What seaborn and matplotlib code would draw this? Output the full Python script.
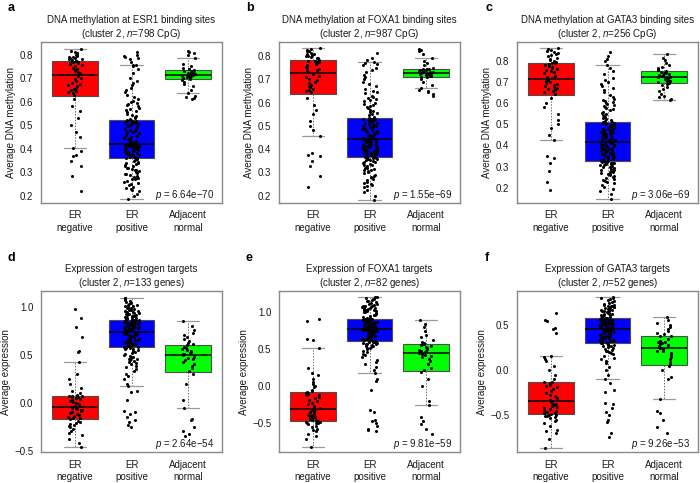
import pandas as pd
import matplotlib
matplotlib.use('Agg')
import matplotlib.pyplot as plt
import matplotlib.ticker as mticker
import seaborn as sns

# Groups and box colours
groups = ['ER\nnegative', 'ER\npositive', 'Adjacent\nnormal']
box_colors = ['#ff0000', '#0000ff', '#00ff00']

# Panel a: DNA methylation at ESR1 binding sites
esr1_meth_neg = [0.22, 0.285, 0.325, 0.35, 0.37, 0.375, 0.39, 0.405, 0.45, 0.47,
                 0.50, 0.53, 0.56, 0.58, 0.61, 0.63, 0.635, 0.64, 0.645, 0.65,
                 0.655, 0.66, 0.665, 0.67, 0.675, 0.68, 0.69, 0.695, 0.70, 0.71,
                 0.72, 0.725, 0.73, 0.735, 0.74, 0.745, 0.75, 0.755, 0.76, 0.765,
                 0.765, 0.768, 0.77, 0.77, 0.772, 0.775, 0.778, 0.78, 0.78, 0.785,
                 0.785, 0.79, 0.79, 0.795, 0.80, 0.80, 0.805, 0.81, 0.815, 0.823]
esr1_meth_pos = [0.185, 0.20, 0.21, 0.22, 0.225, 0.23, 0.235, 0.24, 0.245, 0.25,
                 0.255, 0.26, 0.265, 0.27, 0.272, 0.275, 0.278, 0.28, 0.285, 0.29,
                 0.292, 0.295, 0.298, 0.30, 0.305, 0.31, 0.312, 0.315, 0.318, 0.32,
                 0.325, 0.328, 0.33, 0.335, 0.338, 0.34, 0.345, 0.348, 0.352, 0.356,
                 0.36, 0.362, 0.364, 0.366, 0.368, 0.37, 0.372, 0.374, 0.376, 0.378,
                 0.38, 0.382, 0.384, 0.386, 0.388, 0.39, 0.391, 0.393, 0.395, 0.396,
                 0.398, 0.40, 0.401, 0.402, 0.404, 0.405, 0.406, 0.407, 0.408, 0.41,
                 0.411, 0.412, 0.413, 0.414, 0.415, 0.416, 0.417, 0.418, 0.419, 0.42,
                 0.422, 0.425, 0.428, 0.43, 0.433, 0.436, 0.44, 0.442, 0.445, 0.448,
                 0.45, 0.453, 0.456, 0.46, 0.463, 0.466, 0.47, 0.473, 0.476, 0.48,
                 0.483, 0.486, 0.49, 0.493, 0.496, 0.50, 0.502, 0.504, 0.506, 0.508,
                 0.51, 0.511, 0.512, 0.513, 0.514, 0.515, 0.516, 0.518, 0.519, 0.52,
                 0.522, 0.525, 0.53, 0.535, 0.54, 0.545, 0.55, 0.555, 0.56, 0.565,
                 0.57, 0.575, 0.58, 0.585, 0.59, 0.595, 0.60, 0.605, 0.61, 0.62,
                 0.63, 0.64, 0.65, 0.66, 0.67, 0.68, 0.69, 0.70, 0.72, 0.74,
                 0.75, 0.755, 0.758, 0.77, 0.78, 0.785, 0.79, 0.795, 0.80, 0.81]
esr1_meth_norm = [0.61, 0.615, 0.62, 0.625, 0.636, 0.65, 0.665, 0.675, 0.685, 0.692,
                  0.696, 0.70, 0.702, 0.704, 0.706, 0.708, 0.71, 0.711, 0.712, 0.713,
                  0.715, 0.717, 0.719, 0.72, 0.722, 0.724, 0.726, 0.729, 0.732, 0.735,
                  0.737, 0.74, 0.745, 0.75, 0.76, 0.786, 0.80, 0.805, 0.81, 0.815]

# Panel b: DNA methylation at FOXA1 binding sites
foxa1_meth_neg = [0.235, 0.285, 0.325, 0.35, 0.37, 0.375, 0.385, 0.455, 0.48, 0.50,
                  0.52, 0.55, 0.57, 0.59, 0.62, 0.645, 0.65, 0.655, 0.66, 0.665,
                  0.67, 0.675, 0.68, 0.685, 0.69, 0.695, 0.70, 0.71, 0.715, 0.725,
                  0.73, 0.735, 0.74, 0.745, 0.75, 0.755, 0.76, 0.765, 0.77, 0.775,
                  0.775, 0.775, 0.778, 0.78, 0.78, 0.785, 0.79, 0.79, 0.795, 0.80,
                  0.80, 0.805, 0.81, 0.81, 0.815, 0.82, 0.82, 0.825, 0.83, 0.833]
foxa1_meth_pos = [0.181, 0.20, 0.215, 0.225, 0.235, 0.24, 0.245, 0.25, 0.255, 0.26,
                  0.265, 0.27, 0.275, 0.28, 0.285, 0.29, 0.295, 0.30, 0.305, 0.31,
                  0.312, 0.315, 0.318, 0.32, 0.325, 0.33, 0.333, 0.336, 0.34, 0.343,
                  0.346, 0.35, 0.352, 0.354, 0.356, 0.358, 0.36, 0.362, 0.364, 0.365,
                  0.367, 0.369, 0.371, 0.373, 0.375, 0.377, 0.379, 0.381, 0.383, 0.385,
                  0.387, 0.389, 0.391, 0.393, 0.395, 0.397, 0.399, 0.401, 0.403, 0.405,
                  0.407, 0.409, 0.411, 0.413, 0.415, 0.417, 0.419, 0.421, 0.423, 0.425,
                  0.427, 0.429, 0.431, 0.433, 0.435, 0.437, 0.439, 0.44, 0.441, 0.442,
                  0.444, 0.447, 0.45, 0.452, 0.455, 0.458, 0.46, 0.463, 0.466, 0.468,
                  0.47, 0.473, 0.476, 0.479, 0.482, 0.485, 0.488, 0.49, 0.493, 0.496,
                  0.498, 0.50, 0.503, 0.506, 0.508, 0.511, 0.514, 0.516, 0.519, 0.522,
                  0.523, 0.524, 0.525, 0.526, 0.527, 0.528, 0.529, 0.53, 0.53, 0.531,
                  0.535, 0.54, 0.545, 0.55, 0.555, 0.56, 0.565, 0.57, 0.575, 0.58,
                  0.585, 0.59, 0.595, 0.60, 0.605, 0.61, 0.615, 0.62, 0.625, 0.63,
                  0.64, 0.645, 0.65, 0.66, 0.67, 0.68, 0.69, 0.70, 0.71, 0.72,
                  0.73, 0.74, 0.75, 0.76, 0.765, 0.77, 0.775, 0.785, 0.79, 0.815]
foxa1_meth_norm = [0.63, 0.635, 0.645, 0.65, 0.655, 0.661, 0.675, 0.69, 0.70, 0.708,
                   0.712, 0.714, 0.716, 0.718, 0.72, 0.721, 0.723, 0.724, 0.726, 0.727,
                   0.729, 0.73, 0.731, 0.733, 0.735, 0.737, 0.739, 0.741, 0.743, 0.744,
                   0.746, 0.75, 0.76, 0.77, 0.78, 0.792, 0.81, 0.82, 0.825, 0.83]

# Panel c: DNA methylation at GATA3 binding sites
gata3_meth_neg = [0.189, 0.228, 0.281, 0.315, 0.342, 0.35, 0.425, 0.45, 0.48, 0.50,
                  0.52, 0.55, 0.58, 0.60, 0.625, 0.645, 0.65, 0.655, 0.66, 0.665,
                  0.67, 0.675, 0.68, 0.685, 0.69, 0.695, 0.70, 0.705, 0.71, 0.712,
                  0.718, 0.725, 0.73, 0.74, 0.745, 0.75, 0.755, 0.76, 0.765, 0.77,
                  0.775, 0.778, 0.78, 0.783, 0.787, 0.79, 0.795, 0.80, 0.805, 0.81,
                  0.815, 0.82, 0.825, 0.83, 0.835, 0.84, 0.845, 0.85, 0.855, 0.86]
gata3_meth_pos = [0.148, 0.17, 0.185, 0.195, 0.205, 0.215, 0.22, 0.225, 0.23, 0.235,
                  0.24, 0.245, 0.25, 0.255, 0.26, 0.263, 0.266, 0.27, 0.273, 0.276,
                  0.28, 0.283, 0.286, 0.29, 0.293, 0.296, 0.30, 0.303, 0.306, 0.309,
                  0.312, 0.314, 0.316, 0.318, 0.319, 0.32, 0.321, 0.322, 0.324, 0.325,
                  0.328, 0.33, 0.332, 0.335, 0.337, 0.339, 0.341, 0.344, 0.346, 0.348,
                  0.35, 0.353, 0.355, 0.357, 0.359, 0.362, 0.364, 0.366, 0.368, 0.371,
                  0.373, 0.375, 0.377, 0.38, 0.382, 0.384, 0.386, 0.389, 0.391, 0.393,
                  0.395, 0.398, 0.40, 0.402, 0.404, 0.407, 0.409, 0.411, 0.413, 0.415,
                  0.417, 0.42, 0.422, 0.425, 0.427, 0.43, 0.432, 0.434, 0.437, 0.44,
                  0.442, 0.444, 0.447, 0.449, 0.452, 0.454, 0.456, 0.459, 0.461, 0.464,
                  0.466, 0.468, 0.471, 0.473, 0.476, 0.478, 0.48, 0.483, 0.485, 0.488,
                  0.49, 0.492, 0.495, 0.497, 0.50, 0.502, 0.504, 0.507, 0.509, 0.51,
                  0.515, 0.52, 0.525, 0.53, 0.535, 0.54, 0.545, 0.55, 0.555, 0.56,
                  0.565, 0.57, 0.575, 0.58, 0.585, 0.59, 0.595, 0.60, 0.605, 0.61,
                  0.615, 0.62, 0.63, 0.64, 0.65, 0.66, 0.67, 0.68, 0.69, 0.70,
                  0.71, 0.72, 0.735, 0.75, 0.765, 0.78, 0.80, 0.81, 0.82, 0.84]
gata3_meth_norm = [0.615, 0.62, 0.628, 0.635, 0.645, 0.655, 0.665, 0.675, 0.685, 0.692,
                   0.696, 0.699, 0.702, 0.705, 0.708, 0.711, 0.713, 0.715, 0.717, 0.719,
                   0.723, 0.725, 0.727, 0.729, 0.731, 0.734, 0.737, 0.74, 0.744, 0.749,
                   0.752, 0.756, 0.76, 0.765, 0.77, 0.78, 0.79, 0.805, 0.815, 0.83]

# Panel d: expression of estrogen targets
estr_expr_neg = [-0.535, -0.462, -0.42, -0.38, -0.34, -0.31, -0.29, -0.27, -0.25, -0.24,
                 -0.23, -0.22, -0.21, -0.20, -0.19, -0.165, -0.16, -0.155, -0.15, -0.14,
                 -0.13, -0.12, -0.11, -0.10, -0.09, -0.08, -0.07, -0.06, -0.055, -0.05,
                 -0.04, -0.03, -0.02, -0.01, 0.0, 0.01, 0.02, 0.03, 0.04, 0.05,
                 0.055, 0.06, 0.063, 0.066, 0.068, 0.07, 0.08, 0.10, 0.12, 0.15,
                 0.20, 0.25, 0.30, 0.421, 0.53, 0.535, 0.68, 0.79, 0.88, 0.97]
estr_expr_pos = [-0.25, -0.23, -0.20, -0.18, -0.15, -0.12, -0.10, -0.09, 0.03, 0.11,
                 0.12, 0.172, 0.20, 0.25, 0.28, 0.30, 0.33, 0.35, 0.37, 0.38,
                 0.40, 0.41, 0.42, 0.43, 0.44, 0.45, 0.46, 0.47, 0.48, 0.49,
                 0.50, 0.51, 0.52, 0.53, 0.54, 0.55, 0.555, 0.56, 0.565, 0.572,
                 0.58, 0.585, 0.59, 0.594, 0.598, 0.602, 0.606, 0.61, 0.614, 0.618,
                 0.622, 0.626, 0.63, 0.634, 0.638, 0.642, 0.646, 0.65, 0.654, 0.658,
                 0.662, 0.666, 0.67, 0.674, 0.678, 0.682, 0.686, 0.69, 0.694, 0.698,
                 0.702, 0.706, 0.71, 0.714, 0.718, 0.722, 0.726, 0.73, 0.735, 0.74,
                 0.742, 0.745, 0.748, 0.751, 0.754, 0.757, 0.76, 0.763, 0.766, 0.769,
                 0.772, 0.775, 0.778, 0.781, 0.784, 0.787, 0.79, 0.793, 0.796, 0.799,
                 0.802, 0.805, 0.808, 0.811, 0.814, 0.817, 0.82, 0.823, 0.826, 0.829,
                 0.832, 0.835, 0.838, 0.841, 0.844, 0.847, 0.85, 0.853, 0.856, 0.858,
                 0.862, 0.866, 0.87, 0.875, 0.88, 0.885, 0.89, 0.895, 0.90, 0.905,
                 0.91, 0.915, 0.92, 0.925, 0.93, 0.935, 0.94, 0.945, 0.95, 0.955,
                 0.96, 0.965, 0.97, 0.975, 0.98, 0.985, 0.99, 1.0, 1.005, 1.01,
                 1.015, 1.02, 1.03, 1.04, 1.05, 1.06, 1.07, 1.08, 1.085, 1.093]
estr_expr_norm = [-0.35, -0.32, -0.29, -0.25, -0.18, -0.17, -0.059, 0.03, 0.20, 0.30,
                  0.33, 0.36, 0.38, 0.40, 0.42, 0.44, 0.46, 0.47, 0.48, 0.495,
                  0.505, 0.51, 0.52, 0.53, 0.54, 0.55, 0.56, 0.57, 0.58, 0.60,
                  0.61, 0.62, 0.64, 0.66, 0.68, 0.70, 0.73, 0.76, 0.80, 0.852]

# Panel e: expression of FOXA1 targets
foxa1_expr_neg = [-0.835, -0.72, -0.68, -0.65, -0.62, -0.60, -0.58, -0.56, -0.54, -0.52,
                  -0.51, -0.505, -0.50, -0.495, -0.49, -0.475, -0.47, -0.46, -0.45, -0.44,
                  -0.43, -0.42, -0.41, -0.40, -0.39, -0.38, -0.36, -0.35, -0.33, -0.31,
                  -0.305, -0.29, -0.27, -0.25, -0.23, -0.21, -0.19, -0.17, -0.15, -0.13,
                  -0.12, -0.11, -0.10, -0.09, -0.08, -0.065, -0.05, -0.02, 0.0, 0.03,
                  0.06, 0.10, 0.15, 0.17, 0.25, 0.515, 0.62, 0.64, 0.89, 0.91]
foxa1_expr_pos = [-0.62, -0.60, -0.58, -0.55, -0.50, -0.48, -0.46, -0.35, -0.33, -0.05,
                  0.07, 0.10, 0.181, 0.22, 0.26, 0.30, 0.33, 0.36, 0.39, 0.42,
                  0.44, 0.46, 0.48, 0.50, 0.51, 0.52, 0.53, 0.54, 0.55, 0.56,
                  0.565, 0.57, 0.575, 0.58, 0.585, 0.59, 0.593, 0.596, 0.599, 0.602,
                  0.608, 0.612, 0.616, 0.62, 0.625, 0.63, 0.635, 0.64, 0.645, 0.65,
                  0.655, 0.66, 0.665, 0.67, 0.675, 0.68, 0.685, 0.69, 0.695, 0.70,
                  0.705, 0.71, 0.715, 0.72, 0.725, 0.73, 0.735, 0.74, 0.745, 0.75,
                  0.753, 0.756, 0.759, 0.762, 0.765, 0.767, 0.769, 0.771, 0.772, 0.773,
                  0.776, 0.78, 0.784, 0.788, 0.792, 0.796, 0.80, 0.804, 0.808, 0.812,
                  0.816, 0.82, 0.824, 0.828, 0.832, 0.836, 0.84, 0.844, 0.848, 0.852,
                  0.856, 0.86, 0.864, 0.868, 0.872, 0.876, 0.88, 0.884, 0.888, 0.892,
                  0.895, 0.898, 0.90, 0.902, 0.904, 0.905, 0.906, 0.907, 0.908, 0.909,
                  0.912, 0.92, 0.93, 0.94, 0.95, 0.96, 0.97, 0.98, 0.99, 1.0,
                  1.01, 1.02, 1.025, 1.03, 1.035, 1.04, 1.045, 1.05, 1.055, 1.06,
                  1.065, 1.07, 1.075, 1.08, 1.085, 1.09, 1.095, 1.10, 1.11, 1.12,
                  1.13, 1.14, 1.15, 1.16, 1.17, 1.18, 1.19, 1.20, 1.205, 1.208]
foxa1_expr_norm = [-0.65, -0.58, -0.52, -0.48, -0.42, -0.257, -0.20, 0.0, 0.10, 0.19,
                   0.215, 0.25, 0.30, 0.34, 0.37, 0.40, 0.41, 0.42, 0.435, 0.445,
                   0.46, 0.47, 0.48, 0.49, 0.50, 0.52, 0.53, 0.54, 0.555, 0.57,
                   0.575, 0.58, 0.60, 0.63, 0.66, 0.70, 0.75, 0.80, 0.85, 0.899]

# Panel f: expression of GATA3 targets
gata3_expr_neg = [-0.867, -0.76, -0.70, -0.68, -0.66, -0.62, -0.59, -0.57, -0.55, -0.53,
                  -0.52, -0.51, -0.505, -0.50, -0.495, -0.485, -0.48, -0.47, -0.46, -0.45,
                  -0.44, -0.43, -0.42, -0.41, -0.40, -0.39, -0.38, -0.37, -0.36, -0.35,
                  -0.345, -0.33, -0.31, -0.29, -0.27, -0.25, -0.23, -0.21, -0.19, -0.17,
                  -0.16, -0.155, -0.15, -0.145, -0.135, -0.125, -0.10, -0.05, 0.0, 0.05,
                  0.10, 0.12, 0.15, 0.163, 0.42, 0.46, 0.47, 0.55, 0.56, 0.64]
gata3_expr_pos = [-0.74, -0.70, -0.58, -0.55, -0.50, -0.46, -0.42, -0.38, -0.36, -0.24,
                  -0.22, -0.14, -0.093, -0.05, 0.0, 0.04, 0.08, 0.10, 0.12, 0.14,
                  0.16, 0.18, 0.19, 0.20, 0.21, 0.22, 0.23, 0.24, 0.25, 0.26,
                  0.265, 0.27, 0.275, 0.28, 0.285, 0.29, 0.295, 0.298, 0.301, 0.304,
                  0.309, 0.313, 0.317, 0.321, 0.325, 0.329, 0.333, 0.337, 0.341, 0.345,
                  0.349, 0.353, 0.357, 0.361, 0.365, 0.369, 0.373, 0.377, 0.381, 0.385,
                  0.389, 0.393, 0.397, 0.401, 0.405, 0.409, 0.413, 0.417, 0.421, 0.425,
                  0.429, 0.433, 0.437, 0.441, 0.444, 0.447, 0.45, 0.453, 0.456, 0.458,
                  0.46, 0.463, 0.466, 0.469, 0.472, 0.475, 0.478, 0.481, 0.484, 0.487,
                  0.49, 0.493, 0.496, 0.499, 0.502, 0.505, 0.508, 0.511, 0.514, 0.517,
                  0.52, 0.523, 0.526, 0.529, 0.532, 0.535, 0.538, 0.541, 0.544, 0.547,
                  0.55, 0.553, 0.556, 0.559, 0.562, 0.565, 0.568, 0.571, 0.574, 0.577,
                  0.58, 0.585, 0.59, 0.595, 0.60, 0.605, 0.61, 0.615, 0.62, 0.625,
                  0.63, 0.635, 0.64, 0.645, 0.65, 0.655, 0.66, 0.665, 0.67, 0.675,
                  0.68, 0.685, 0.69, 0.695, 0.70, 0.705, 0.71, 0.715, 0.72, 0.725,
                  0.73, 0.74, 0.75, 0.76, 0.77, 0.78, 0.79, 0.80, 0.805, 0.811]
gata3_expr_norm = [-0.70, -0.63, -0.55, -0.48, -0.45, -0.319, -0.10, -0.08, 0.0, 0.05,
                   0.068, 0.09, 0.12, 0.15, 0.17, 0.19, 0.21, 0.22, 0.235, 0.245,
                   0.258, 0.27, 0.28, 0.29, 0.30, 0.31, 0.32, 0.33, 0.35, 0.378,
                   0.385, 0.40, 0.42, 0.44, 0.46, 0.48, 0.50, 0.53, 0.56, 0.593]

panel_data = [
    (esr1_meth_neg, esr1_meth_pos, esr1_meth_norm),
    (foxa1_meth_neg, foxa1_meth_pos, foxa1_meth_norm),
    (gata3_meth_neg, gata3_meth_pos, gata3_meth_norm),
    (estr_expr_neg, estr_expr_pos, estr_expr_norm),
    (foxa1_expr_neg, foxa1_expr_pos, foxa1_expr_norm),
    (gata3_expr_neg, gata3_expr_pos, gata3_expr_norm),
]

panel_letters = ['a', 'b', 'c', 'd', 'e', 'f']
titles = ['DNA methylation at ESR1 binding sites', 'DNA methylation at FOXA1 binding sites',
          'DNA methylation at GATA3 binding sites', 'Expression of estrogen targets',
          'Expression of FOXA1 targets', 'Expression of GATA3 targets']
n_labels = ['798 CpG', '987 CpG', '256 CpG', '133 genes', '82 genes', '52 genes']
y_labels = ['Average DNA methylation'] * 3 + ['Average expression'] * 3
p_values = ['6.64e\u221270', '1.55e\u221269', '3.06e\u221269',
            '2.64e\u221254', '9.81e\u221259', '9.26e\u221253']
y_limits = [(0.172, 0.855), (0.17, 0.862), (0.13, 0.89),
            (-0.512, 1.16), (-0.9, 1.29), (-0.91, 0.88)]
meth_ticks = [0.2, 0.3, 0.4, 0.5, 0.6, 0.7, 0.8]
y_ticks = [meth_ticks, meth_ticks, meth_ticks,
           [-0.5, 0.0, 0.5, 1.0], [-0.5, 0.0, 0.5, 1.0], [-0.5, 0.0, 0.5]]

sns.set_style('white')
plt.rcParams['font.family'] = ['Liberation Sans', 'DejaVu Sans']
plt.rcParams['mathtext.fontset'] = 'custom'
plt.rcParams['mathtext.rm'] = 'Liberation Sans'
plt.rcParams['mathtext.it'] = 'Liberation Sans:italic'

fig = plt.figure(figsize=(7, 4.83), dpi=100)

col_left = [0.0586, 0.3986, 0.7386]
row_bottom = [0.5807, 0.0641]
ax_w, ax_h = 0.2586, 0.333
letter_x = [8 / 700, 246 / 700, 485 / 700]
letter_y = [1 - 8 / 483, 1 - 258 / 483]

text_color = '#1a1a1a'
minus_fmt = mticker.FuncFormatter(lambda v, _: f'{v:.1f}'.replace('-', '\u2212'))

for i, (neg, pos, norm) in enumerate(panel_data):
    row, col = divmod(i, 3)
    ax = fig.add_axes([col_left[col], row_bottom[row], ax_w, ax_h])

    df = pd.DataFrame({
        'group': [groups[0]] * len(neg) + [groups[1]] * len(pos) + [groups[2]] * len(norm),
        'value': list(neg) + list(pos) + list(norm),
    })

    sns.boxplot(data=df, x='group', y='value', order=groups, hue='group',
                hue_order=groups, palette=box_colors, legend=False, saturation=1,
                width=0.8, whis=1.5, showfliers=False, linecolor='#4d4d4d',
                linewidth=0.8,
                medianprops=dict(color='black', linewidth=1.1),
                whiskerprops=dict(color='#6e6e6e', linewidth=0.7, linestyle=(0, (1.5, 1.5))),
                capprops=dict(color='#9a9a9a', linewidth=0.9),
                ax=ax)
    sns.stripplot(data=df, x='group', y='value', order=groups, color='black',
                  size=2.2, jitter=0.13, linewidth=0, ax=ax, zorder=3)

    ax.set_xlim(-0.6, 2.6)
    ax.set_ylim(*y_limits[i])
    ax.set_yticks(y_ticks[i])
    ax.yaxis.set_major_formatter(minus_fmt)
    ax.set_xlabel('')
    ax.set_ylabel(y_labels[i], fontsize=7, color=text_color, labelpad=2.5)
    ax.set_title(f'{titles[i]}\n(cluster 2, $n$={n_labels[i]})',
                 fontsize=7, color=text_color, pad=3.5, linespacing=1.2)
    ax.tick_params(axis='both', direction='out', length=3, width=0.6,
                   colors='#333333', labelcolor=text_color, pad=2.5)
    ax.tick_params(axis='x', labelsize=7, pad=2.5)
    ax.tick_params(axis='y', labelsize=7)
    for lbl in ax.get_xticklabels():
        lbl.set_linespacing(1.3)
    for sp in ax.spines.values():
        sp.set_visible(True)
        sp.set_color('#8a8a8a')
        sp.set_linewidth(1.0)

    ax.text(0.955, 0.03, f'$p$ = {p_values[i]}', transform=ax.transAxes,
            ha='right', va='baseline', fontsize=7, color=text_color)

    fig.text(letter_x[col], letter_y[row], panel_letters[i], fontsize=9,
             fontweight='bold', va='center', ha='left', color='black')

fig.savefig('out.png', dpi=100)
